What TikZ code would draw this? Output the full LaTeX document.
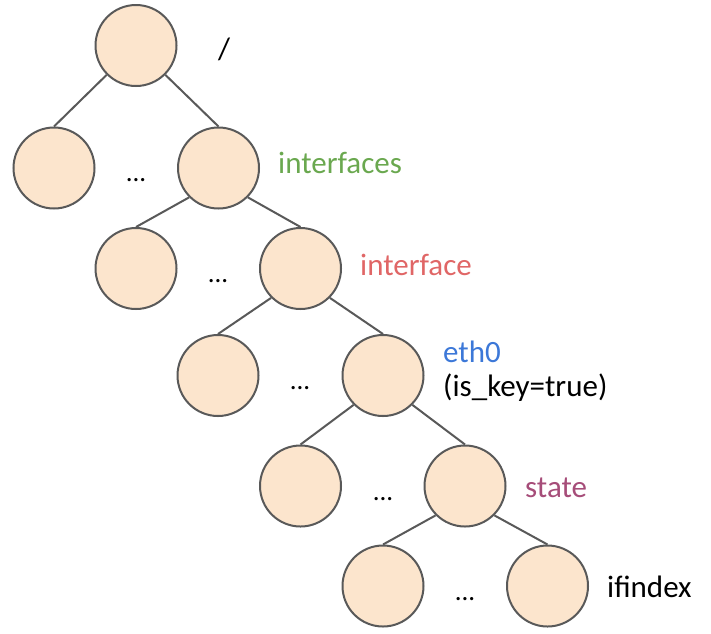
\documentclass[tikz,border=0pt]{standalone}
\usepackage{fontspec}
\setmainfont{Carlito}
\definecolor{nodefill}{HTML}{FCE5CD}
\definecolor{nodeline}{HTML}{595959}
\definecolor{cgreen}{HTML}{6AA84F}
\definecolor{cred}{HTML}{E06666}
\definecolor{cblue}{HTML}{3C78D8}
\definecolor{cpurple}{HTML}{A64D79}
\begin{document}
\begin{tikzpicture}[x=1pt,y=-1pt,
  tnode/.style={circle,draw=nodeline,fill=nodefill,line width=2pt,minimum size=81pt,inner sep=0pt},
  edge/.style={draw=nodeline,line width=2pt},
  lbl/.style={anchor=base west,inner sep=0pt,font=\fontsize{31}{36}\selectfont},
  dots/.style={anchor=base,inner sep=0pt,font=\fontsize{27}{30}\selectfont}]
\useasboundingbox (0,0) rectangle (711,633);
% nodes
\node[tnode] (r) at (136,45.5) {};
\node[tnode] (a1) at (54,168) {};
\node[tnode] (b1) at (218.5,168) {};
\node[tnode] (a2) at (136,268.5) {};
\node[tnode] (b2) at (300.5,268.5) {};
\node[tnode] (a3) at (218,375.5) {};
\node[tnode] (b3) at (383,375.5) {};
\node[tnode] (a4) at (300.5,486) {};
\node[tnode] (b4) at (465,486) {};
\node[tnode] (a5) at (383,586) {};
\node[tnode] (b5) at (547.5,586) {};
% edges
\draw[edge] (r.south west) -- (a1.north);
\draw[edge] (r.south east) -- (b1.north);
\draw[edge] (b1.south west) -- (a2.north);
\draw[edge] (b1.south east) -- (b2.north);
\draw[edge] (b2.south west) -- (a3.north);
\draw[edge] (b2.south east) -- (b3.north);
\draw[edge] (b3.south west) -- (a4.north);
\draw[edge] (b3.south east) -- (b4.north);
\draw[edge] (b4.south west) -- (a5.north);
\draw[edge] (b4.south east) -- (b5.north);
% dots
\node[dots] (d1) at (136,181) {...};
\node[dots] (d2) at (218,282) {...};
\node[dots] (d3) at (300,389) {...};
\node[dots] (d4) at (383,500) {...};
\node[dots] (d5) at (465,600) {...};
% labels
\node[lbl] (lr) at (218,59) {/};
\node[lbl,text=cgreen] (l1) at (278,173) {interfaces};
\node[lbl,text=cred] (l2) at (360,275) {interface};
\node[lbl,text=cblue] (l3) at (443,362) {eth0};
\node[lbl] (l3b) at (443,396) {(is\_key=true)};
\node[lbl,text=cpurple] (l4) at (525,497) {state};
\node[lbl] (l5) at (607,597) {ifindex};
\end{tikzpicture}
\end{document}
